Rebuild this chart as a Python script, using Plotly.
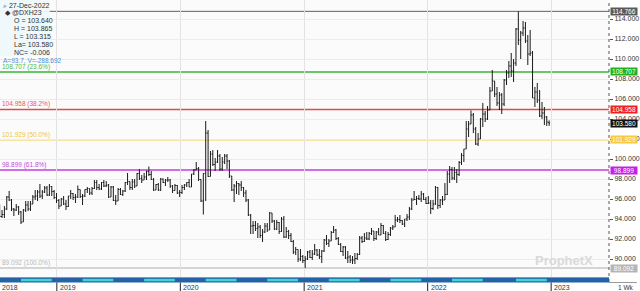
import plotly.graph_objects as go
import pandas as pd

# ---------------- data (weekly bars of @DXH23) ----------------
first_week = "2018-07-16"
first_open = 94.5

close_2018 = [94.25, 94.45, 95.0, 96.2, 95.9, 95.0, 94.9, 95.2, 94.7, 93.7, 94.9, 95.4, 95.0, 95.5,
              96.2, 96.3, 96.7, 96.3, 96.7, 97.1, 96.4, 97.25, 96.75, 96.15]
high_2018 = [95.45, 94.9, 95.3, 96.3, 96.8, 96.0, 95.1, 95.5, 95.3, 94.8, 95.0, 95.8, 95.8, 95.8,
             96.4, 96.9, 96.9, 97.5, 96.9, 97.3, 97.3, 97.5, 97.3, 96.9]
low_2018 = [94.2, 94.1, 94.1, 94.9, 95.8, 94.8, 94.3, 94.8, 94.4, 93.5, 93.7, 94.7, 94.8, 94.8,
            95.5, 95.9, 95.8, 96.1, 96.0, 96.6, 96.3, 96.3, 96.3, 96.0]

close_2019 = [95.85, 95.3, 96.0, 95.5, 95.25, 96.3, 96.55, 96.15, 96.2, 96.95, 96.25, 96.3, 96.95,
              97.05, 96.6, 97.05, 97.65, 97.15, 97.0, 97.65, 97.3, 97.4, 96.2, 97.2, 95.85, 95.8,
              96.95, 96.45, 96.8, 97.65, 97.75, 97.15, 97.7, 97.3, 98.55, 98.05, 97.9, 98.2, 98.75,
              98.45, 97.95, 96.9, 97.45, 96.9, 98.0, 97.65, 97.9, 97.9, 97.3, 96.85, 97.35, 96.6]
high_2019 = [96.6, 96.0, 96.1, 96.3, 95.9, 96.3, 96.9, 96.6, 96.5, 97.35, 96.95, 96.5, 96.95,
             97.2, 97.05, 97.2, 97.9, 97.9, 97.5, 97.7, 97.9, 97.8, 97.5, 97.3, 97.3, 96.4,
             97.1, 97.1, 96.9, 97.7, 98.6, 97.7, 98.0, 98.0, 98.6, 99.0, 98.4, 98.6, 98.85,
             99.25, 98.8, 98.1, 97.5, 97.6, 98.1, 98.05, 98.0, 98.2, 98.0, 97.4, 97.5, 97.4]
low_2019 = [95.6, 95.0, 95.3, 95.4, 94.9, 95.2, 96.0, 95.9, 95.6, 96.1, 96.1, 95.4, 96.2,
            96.6, 96.4, 96.4, 97.0, 96.9, 96.9, 96.9, 97.2, 97.2, 96.1, 96.2, 95.8, 95.4,
            95.8, 96.4, 96.3, 96.7, 97.4, 96.9, 96.9, 97.1, 97.4, 97.9, 97.6, 97.9, 97.9,
            98.3, 97.9, 96.8, 96.9, 96.8, 96.8, 97.6, 97.3, 97.7, 97.1, 96.6, 96.9, 96.5]

close_2020 = [96.65, 97.15, 97.4, 97.65, 97.2, 98.5, 98.9, 99.05, 97.95, 95.8, 98.55, 102.6, 98.25,
              100.5, 99.45, 99.7, 100.3, 99.0, 99.7, 100.3, 99.8, 98.3, 96.9, 97.3, 97.55, 97.4,
              97.15, 96.6, 95.9, 94.4, 93.3, 93.35, 93.05, 93.2, 92.35, 92.7, 93.3, 92.9, 94.6,
              93.8, 93.0, 93.65, 92.75, 94.0, 92.2, 92.75, 92.35, 91.75, 90.7, 90.95, 90.0, 90.25]
high_2020 = [96.9, 97.4, 97.5, 97.7, 98.0, 98.5, 99.0, 99.7, 99.2, 97.9, 98.6, 103.8, 102.9,
             100.8, 100.9, 100.1, 100.9, 100.5, 100.2, 100.5, 100.5, 99.9, 98.3, 97.5, 97.8, 97.6,
             97.8, 97.2, 96.9, 96.0, 94.5, 93.8, 93.8, 93.6, 93.4, 93.0, 93.6, 93.6, 94.7,
             94.6, 93.9, 93.9, 93.7, 94.2, 94.3, 93.2, 92.9, 92.6, 91.9, 91.2, 90.9, 91.0]
low_2020 = [96.2, 96.5, 96.9, 97.2, 97.2, 97.3, 98.4, 98.9, 97.8, 95.7, 94.45, 95.8, 98.2,
            98.3, 99.3, 98.8, 99.6, 98.8, 98.8, 99.5, 99.0, 98.1, 96.8, 95.7, 96.5, 96.4,
            96.8, 96.2, 95.7, 94.3, 92.5, 92.5, 92.8, 92.1, 92.1, 91.7, 92.6, 92.7, 92.9,
            93.6, 92.9, 92.9, 92.5, 92.7, 92.1, 92.1, 92.0, 91.7, 90.5, 90.4, 89.7, 89.8]

close_2021 = [89.85, 90.0, 90.7, 90.15, 90.5, 90.9, 90.4, 90.25, 90.8, 91.9, 91.55, 91.8, 92.65,
              92.9, 92.05, 91.45, 90.75, 91.2, 90.1, 90.2, 89.9, 89.9, 90.05, 90.45, 92.1, 91.75,
              92.1, 92.0, 92.55, 92.8, 92.05, 92.7, 92.4, 93.35, 92.55, 91.95, 92.45, 93.1, 93.2,
              93.9, 93.95, 93.85, 93.5, 94.0, 94.2, 95.0, 95.9, 95.95, 96.05, 96.0, 96.5, 95.95, 95.55]
high_2021 = [90.4, 90.3, 90.8, 90.9, 90.9, 91.5, 91.0, 91.0, 90.9, 92.0, 92.4, 92.0, 92.8,
             93.3, 93.0, 92.2, 91.6, 91.3, 91.3, 90.8, 90.4, 90.3, 90.6, 90.6, 92.3, 92.3,
             92.6, 92.7, 92.7, 93.1, 92.8, 92.8, 93.1, 93.6, 93.4, 92.8, 92.7, 93.2, 93.4,
             94.4, 94.2, 94.4, 93.9, 94.0, 94.5, 95.2, 96.1, 96.8, 96.3, 96.4, 96.8, 96.6, 96.2]
low_2021 = [89.6, 89.092, 89.9, 90.1, 89.9, 90.4, 90.3, 90.0, 89.6, 90.7, 91.4, 91.2, 91.8,
            92.6, 91.9, 91.4, 90.7, 90.3, 90.0, 89.6, 89.6, 89.5, 89.5, 89.9, 90.4, 91.6,
            91.7, 91.9, 91.9, 92.4, 91.8, 91.9, 92.4, 92.4, 92.5, 91.8, 91.9, 92.3, 92.9,
            93.2, 93.7, 93.6, 93.4, 93.2, 93.8, 93.9, 94.9, 95.9, 95.4, 95.9, 95.7, 95.9, 95.5]

close_2022 = [95.6, 95.05, 95.5, 97.15, 95.35, 95.9, 95.9, 96.45, 98.5, 98.95, 98.1, 98.65, 98.45,
              99.65, 100.35, 101.0, 103.0, 103.5, 104.4, 103.0, 101.5, 102.0, 104.0, 104.5, 104.0,
              104.9, 106.8, 107.8, 106.5, 105.6, 106.4, 105.5, 107.9, 108.6, 109.3, 108.8, 109.6,
              113.0, 111.9, 112.6, 113.1, 111.8, 110.5, 110.6, 106.1, 106.7, 105.9, 104.3, 104.6,
              104.2, 103.7, 103.58]
high_2022 = [96.3, 95.9, 95.9, 97.3, 97.2, 96.0, 96.3, 97.6, 98.8, 99.3, 99.2, 99.2, 99.0,
             99.8, 100.6, 101.0, 103.8, 103.8, 104.85, 104.6, 103.2, 102.6, 104.1, 105.6, 104.8,
             105.3, 107.2, 108.9, 107.8, 107.2, 106.7, 106.6, 108.0, 108.9, 109.8, 110.6, 110.0,
             113.1, 114.766, 112.8, 113.8, 113.7, 112.4, 112.9, 110.8, 107.2, 107.6, 106.9, 105.7,
             105.2, 104.3, 103.865]
low_2022 = [95.5, 94.5, 94.9, 95.4, 95.0, 95.1, 95.4, 95.9, 96.4, 97.6, 97.9, 97.9, 97.6,
            98.3, 99.4, 99.7, 101.0, 102.2, 103.5, 102.6, 101.4, 101.3, 102.1, 103.2, 103.7,
            103.9, 104.9, 106.8, 106.2, 105.3, 104.9, 104.5, 105.3, 107.4, 108.1, 108.2, 107.7,
            109.3, 111.4, 110.0, 112.3, 111.6, 109.4, 110.3, 106.1, 105.2, 105.6, 104.2, 104.0,
            103.4, 103.3, 103.315]

# info panel (last bar)
info_date = "27-Dec-2022"
info_symbol = "@DXH23"
last_open, last_high, last_low, last_close = 103.640, 103.865, 103.315, 103.580
net_change = -0.006
info_extra = "A=93.7, V=-288.692"

# Fibonacci retracement levels
fib_levels = [114.766, 108.707, 104.958, 101.929, 98.899, 89.092]
fib_pcts = [None, "23.6%", "38.2%", "50.0%", "61.8%", "100.0%"]
fib_line_colors = ["#5f5f5f", "#3bb53b", "#e24a4a", "#f3cd55", "#c43ce0", "#c8c8c8"]
fib_text_colors = ["#5f5f5f", "#4cbb4c", "#e65a5a", "#efc640", "#c84ae0", "#b8b8b8"]
fib_box_colors = ["#5a5a5a", "#1fb41f", "#f02020", "#f6c843", "#c81ee8", "#b5b5b5"]

price_ticks = [90, 92, 94, 96, 98, 100, 102, 104, 106, 108, 110, 112, 114]
year_labels = ["2018", "2019", "2020", "2021", "2022", "2023"]
year_starts = ["2019-01-01", "2020-01-01", "2021-01-01", "2022-01-01", "2023-01-01"]
cyan_periods = [("2018-09-17", "2018-12-17"), ("2019-03-18", "2019-06-17"),
                ("2019-09-16", "2019-12-16"), ("2020-03-16", "2020-06-15"),
                ("2020-09-14", "2020-12-14"), ("2021-03-15", "2021-06-14"),
                ("2021-09-13", "2021-12-13"), ("2022-03-14", "2022-06-13"),
                ("2022-09-19", "2022-12-19")]
x_range = ["2018-07-17", "2023-06-21"]
y_range = [88.2, 115.9]

# ---------------- assemble ----------------
closes = close_2018 + close_2019 + close_2020 + close_2021 + close_2022
highs_in = high_2018 + high_2019 + high_2020 + high_2021 + high_2022
lows_in = low_2018 + low_2019 + low_2020 + low_2021 + low_2022
dates = pd.date_range(first_week, periods=len(closes), freq="7D")
opens = [first_open] + closes[:-1]
opens[-1] = last_open
highs = [max(h, o, c) for h, o, c in zip(highs_in, opens, closes)]
lows = [min(l, o, c) for l, o, c in zip(lows_in, opens, closes)]

W, H = 640, 291
M_L, M_R, M_T, M_B = 0, 28, 0, 14
PH = H - M_T - M_B  # plot height in px
PW = W - M_L - M_R


def py(px_from_top):
    """pixel row (page) -> paper y"""
    return 1 - (px_from_top - M_T) / PH


FONT = "Liberation Sans"

fig = go.Figure()
fig.add_trace(go.Ohlc(
    x=dates, open=opens, high=highs, low=lows, close=closes,
    increasing=dict(line=dict(color="#1a1a1a", width=1)),
    decreasing=dict(line=dict(color="#1a1a1a", width=1)),
    tickwidth=0.4, hoverinfo="skip", showlegend=False,
))

shapes = []
annotations = []

# fib lines
for lvl, col, pct, tcol, bcol in zip(fib_levels, fib_line_colors, fib_pcts, fib_text_colors, fib_box_colors):
    shapes.append(dict(type="line", xref="paper", yref="y", x0=0, x1=1, y0=lvl, y1=lvl,
                       line=dict(color=col, width=1.5 if pct else 1), layer="below"))
    if pct:
        annotations.append(dict(xref="paper", yref="y", x=0, y=lvl, xanchor="left", yanchor="bottom",
                                xshift=0, yshift=-1, showarrow=False,
                                text=f"{lvl:.3f} ({pct})",
                                font=dict(family=FONT, size=6.5, color=tcol)))
    annotations.append(dict(xref="paper", yref="y", x=1, y=lvl, xanchor="left", yanchor="middle",
                            xshift=1, showarrow=False, text=f"{lvl:.3f}", bgcolor=bcol, width=26,
                            align="center", borderpad=0,
                            font=dict(family=FONT, size=6.5, color="white")))

# last price box
annotations.append(dict(xref="paper", yref="y", x=1, y=last_close, xanchor="left", yanchor="middle",
                        xshift=1, showarrow=False, text=f"{last_close:.3f}", bgcolor="#111111",
                        width=26, align="center", borderpad=0,
                        font=dict(family=FONT, size=6.5, color="white")))

# dotted price-axis line
shapes.append(dict(type="line", xref="paper", yref="paper", x0=1, x1=1, y0=py(282), y1=1,
                   line=dict(color="#555555", width=1, dash="dot")))
# bottom band (contract periods)
shapes.append(dict(type="rect", xref="paper", yref="paper", x0=0, x1=1, y0=py(282.5), y1=py(277.5),
                   fillcolor="#2463a8", line=dict(width=0)))
for a, b in cyan_periods:
    shapes.append(dict(type="rect", xref="x", yref="paper", x0=a, x1=b, y0=py(281.3), y1=py(278.8),
                       fillcolor="#3ed6d0", line=dict(width=0)))
# year tick marks below band
for ys in year_starts:
    shapes.append(dict(type="line", xref="x", yref="paper", x0=ys, x1=ys, y0=py(282.5), y1=py(291),
                       line=dict(color="#222222", width=1)))
# separator under price axis
shapes.append(dict(type="line", xref="paper", yref="paper", x0=1, x1=1 + M_R / PW,
                   y0=py(282.5), y1=py(282.5), line=dict(color="#999999", width=1)))

# year labels
annotations.append(dict(xref="paper", yref="paper", x=0, y=py(287), xanchor="left", yanchor="middle",
                        showarrow=False, text=year_labels[0], font=dict(family=FONT, size=7, color="#333")))
for lab, ys in zip(year_labels[1:], year_starts):
    annotations.append(dict(xref="x", yref="paper", x=ys, y=py(287), xanchor="left", yanchor="middle",
                            xshift=1, showarrow=False, text=lab,
                            font=dict(family=FONT, size=7, color="#333")))
annotations.append(dict(xref="paper", yref="paper", x=1, y=py(287), xanchor="left", yanchor="middle",
                        xshift=7, showarrow=False, text="1 Wk",
                        font=dict(family=FONT, size=6.5, color="#333")))

# info panel background (covers the top line at the far left)
shapes.append(dict(type="rect", xref="paper", yref="paper", x0=0, x1=50 / PW,
                   y0=py(56), y1=1, fillcolor="rgba(238,248,251,0.95)", line=dict(width=0)))

info_lines = [
    ("\u2315 " + info_date, 1, 5, "#333333"),
    ("\u25c6 " + info_symbol, 3, 12.5, "#333333"),
    (f"O = {last_open:.3f}", 12, 20.5, "#333333"),
    (f"H = {last_high:.3f}", 12, 28.5, "#333333"),
    (f"L = {last_low:.3f}", 12, 36.5, "#333333"),
    (f"La= {last_close:.3f}", 12, 44.5, "#333333"),
    (f"NC= {net_change:.3f}", 12, 52.5, "#333333"),
    (info_extra, 1, 60.5, "#4a8fd6"),
]
for txt, xpx, ypx, col in info_lines:
    annotations.append(dict(xref="paper", yref="paper", x=xpx / PW, y=py(ypx),
                            xanchor="left", yanchor="middle", showarrow=False, text=txt,
                            font=dict(family=FONT, size=6.5 if txt == info_extra else 7, color=col)))

# watermark
annotations.append(dict(xref="paper", yref="paper", x=567 / PW, y=py(260),
                        xanchor="center", yanchor="middle", showarrow=False, text="<b>ProphetX</b>",
                        font=dict(family=FONT, size=13, color="#d9d9d9")))

fig.update_layout(
    width=W, height=H,
    margin=dict(l=M_L, r=M_R, t=M_T, b=M_B, pad=0),
    paper_bgcolor="white", plot_bgcolor="#fbfbfb",
    showlegend=False,
    shapes=shapes, annotations=annotations,
    xaxis=dict(type="date", range=x_range, rangeslider=dict(visible=False),
               tickvals=year_starts, showticklabels=False, ticks="",
               showgrid=True, gridcolor="#e2e2e2", gridwidth=1, zeroline=False,
               showline=True, linecolor="#d0d0d0", linewidth=1),
    yaxis=dict(side="right", range=y_range, tickvals=price_ticks,
               ticktext=[f"{v:.3f}" for v in price_ticks],
               ticks="outside", ticklen=3, tickcolor="#555", tickwidth=1,
               tickfont=dict(family=FONT, size=7, color="#333333"),
               showgrid=True, gridcolor="#ececec", gridwidth=1, zeroline=False,
               showline=False),
)

fig.write_html("out.html")
